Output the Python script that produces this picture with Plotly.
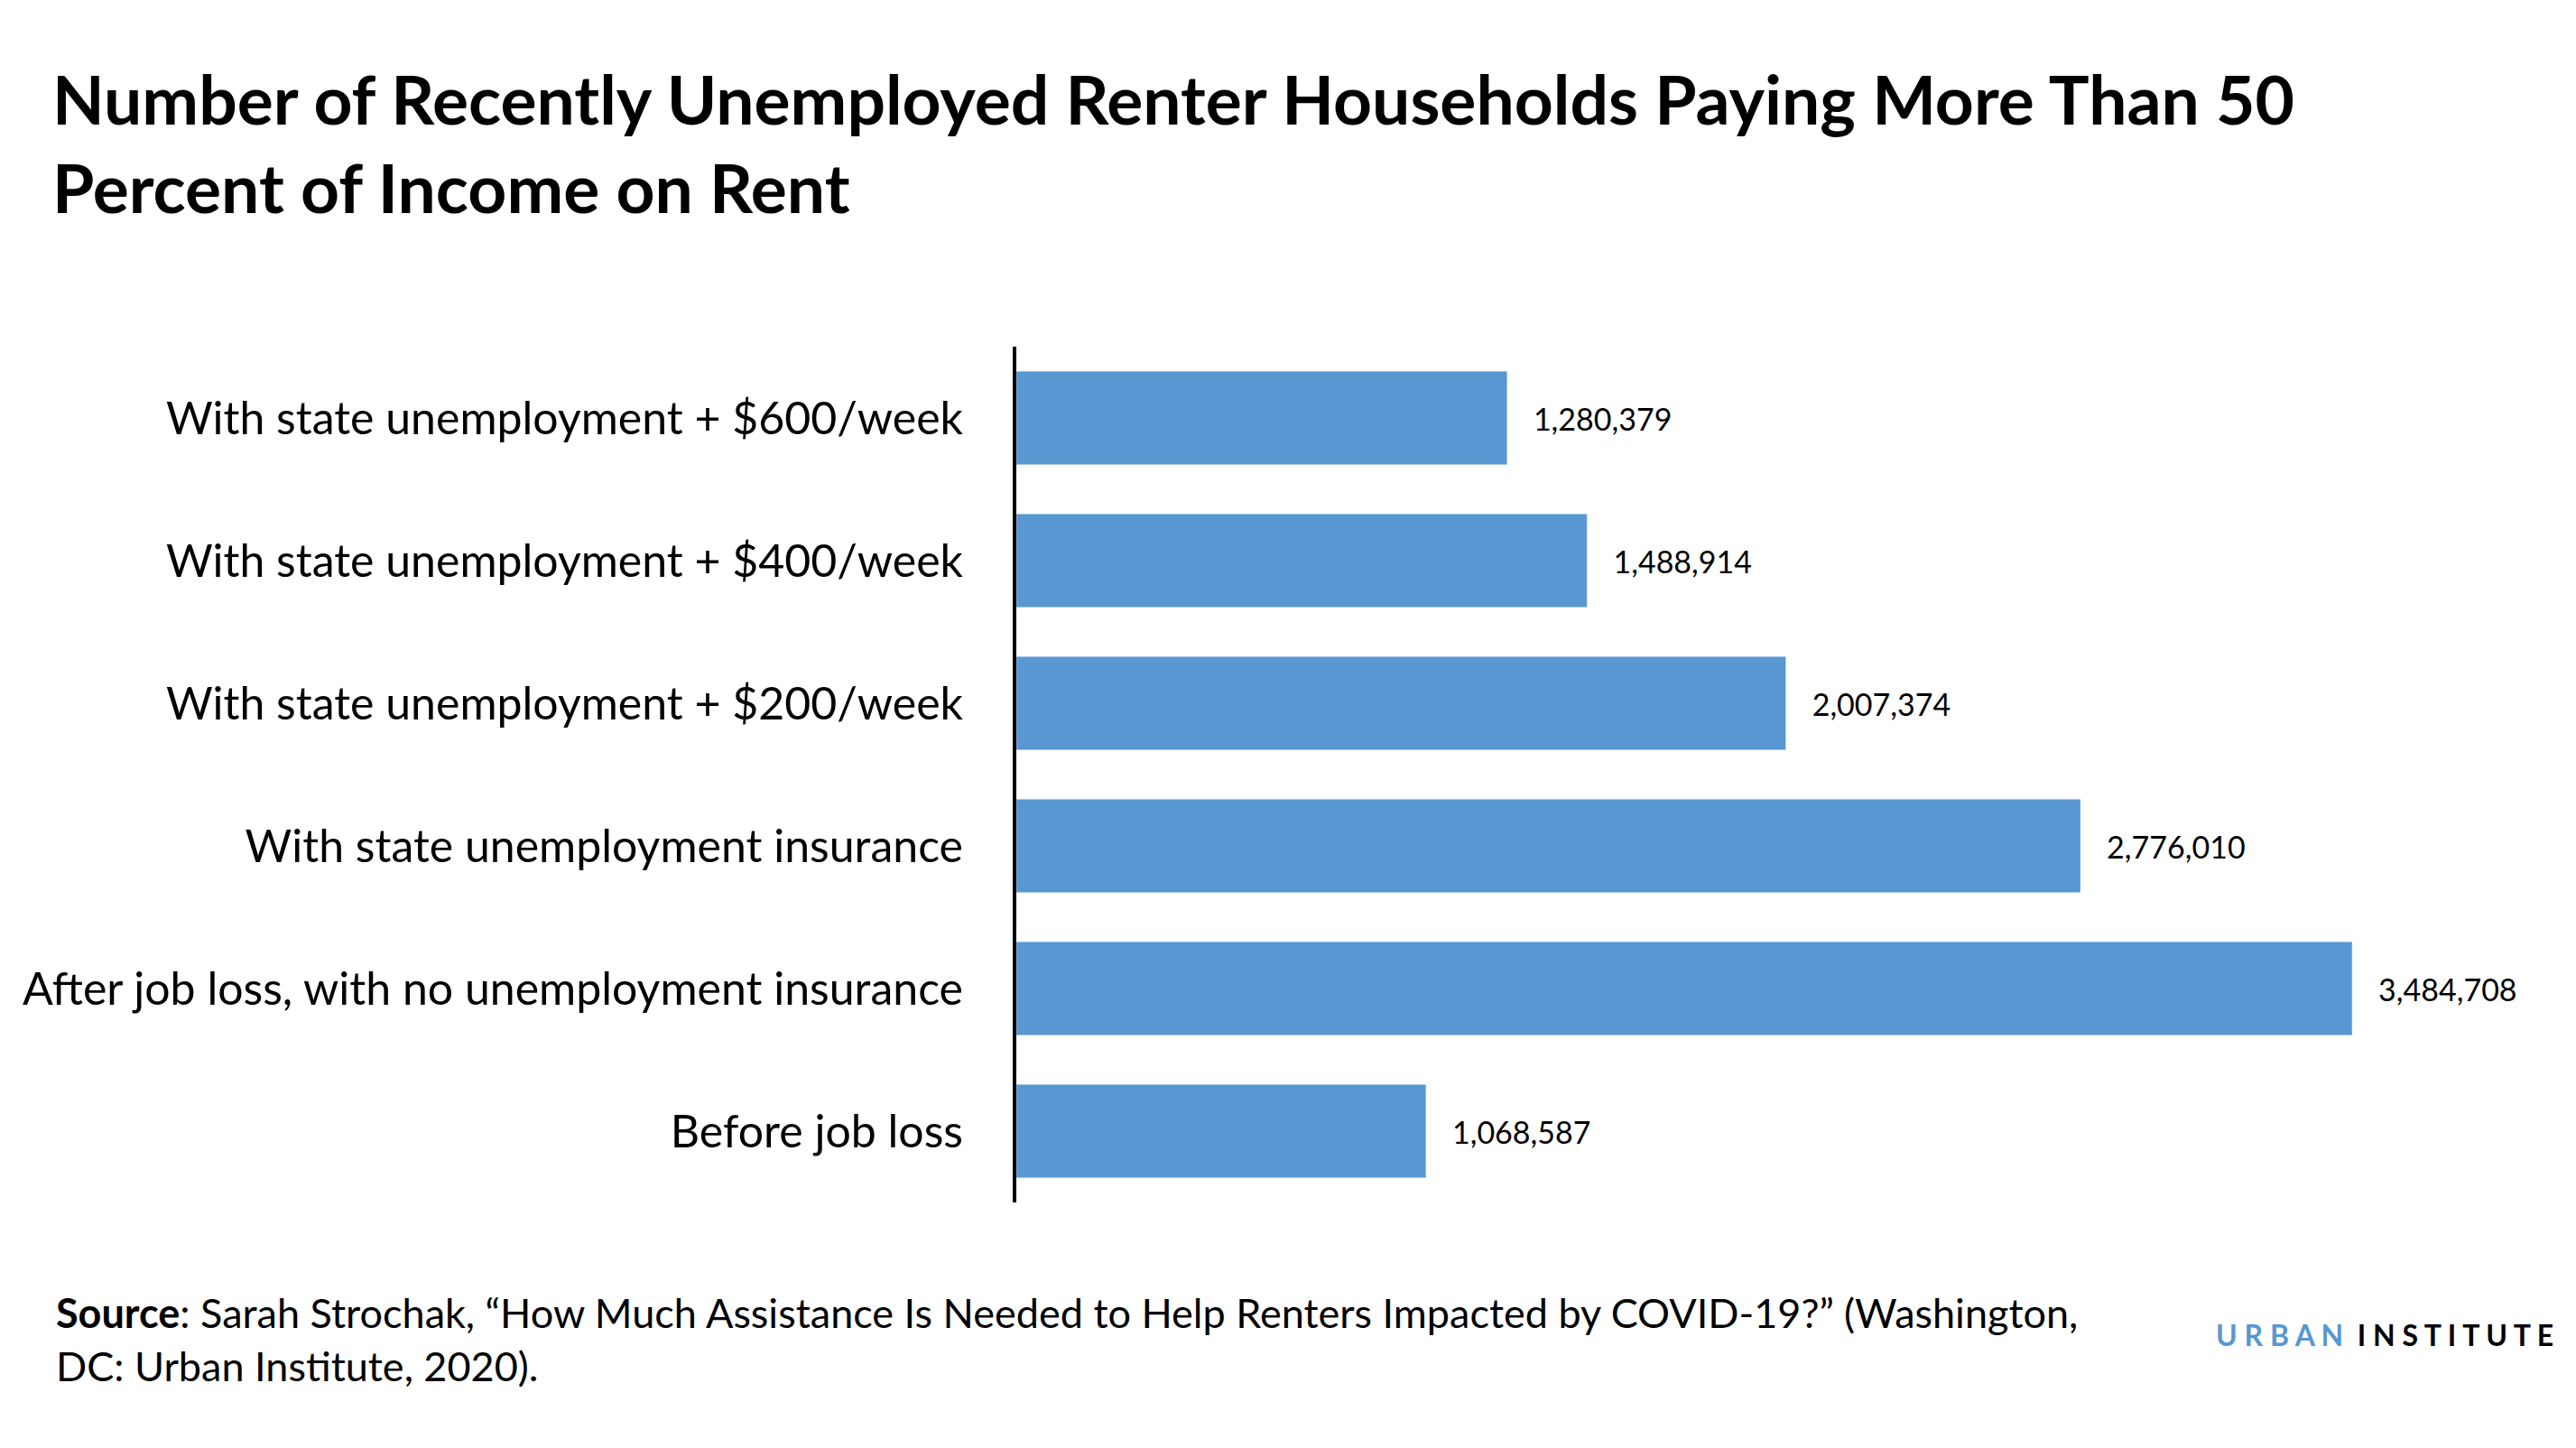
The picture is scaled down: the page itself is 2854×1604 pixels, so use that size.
import plotly.graph_objects as go

categories = [
    "Before job loss",
    "After job loss, with no unemployment insurance",
    "With state unemployment insurance",
    "With state unemployment + $200/week",
    "With state unemployment + $400/week",
    "With state unemployment + $600/week",
]
households = [1068587, 3484708, 2776010, 2007374, 1488914, 1280379]
value_labels = [f"   {v:,}" for v in households]

W, H = 2854, 1604
L, R, T, B = 1118, 100, 376, 280
pw, ph = W - L - R, H - T - B

def px_x(x):
    return (x - L) / pw

def px_y(y):
    return (H - B - y) / ph

fig = go.Figure(go.Bar(
    x=households, y=categories, orientation="h",
    marker_color="#5897d1", text=value_labels, textposition="outside",
    textfont=dict(size=34, color="#000"), cliponaxis=False,
))

fig.update_layout(
    width=W, height=H, margin=dict(l=L, r=R, t=T, b=B),
    plot_bgcolor="white", paper_bgcolor="white",
    font=dict(family="Lato, sans-serif", color="#000"),
    bargap=0.345, showlegend=False,
    title=dict(
        text="<b>Number of Recently Unemployed Renter Households Paying More Than 50<br>Percent of Income on Rent</b>",
        xref="container", x=50 / W, xanchor="left",
        yref="container", y=1 - 130 / H, yanchor="middle",
        font=dict(size=75, color="#000"),
    ),
    xaxis=dict(range=[0, 3484708 * pw / 1480], visible=False),
    yaxis=dict(showline=True, linecolor="#000", linewidth=4, ticks="",
               tickfont=dict(size=50, color="#000"), ticklabelstandoff=45,
               showgrid=False),
)

fig.add_annotation(
    text="<b>Source</b>: Sarah Strochak, “How Much Assistance Is Needed to Help Renters Impacted by COVID-19?” (Washington,<br>DC: Urban Institute, 2020).",
    xref="paper", yref="paper", x=px_x(52), y=px_y(1475),
    xanchor="left", yanchor="middle", align="left", showarrow=False,
    font=dict(size=45, color="#000"),
)
fig.add_annotation(
    text="<b><span style='color:#5897d1'>U R B A N</span>  I N S T I T U T E</b>",
    xref="paper", yref="paper", x=px_x(2823), y=px_y(1470),
    xanchor="right", yanchor="middle", showarrow=False,
    font=dict(size=32, color="#000"),
)

fig.write_html("out.html")
